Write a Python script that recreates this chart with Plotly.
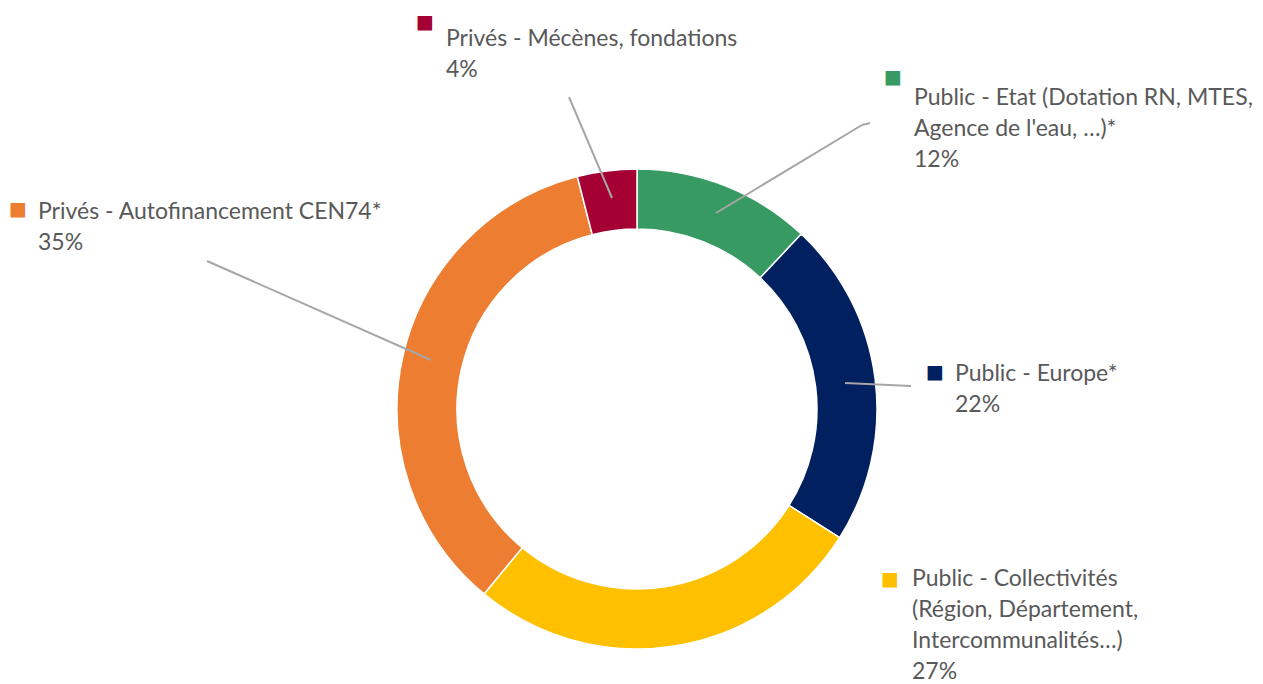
import plotly.graph_objects as go

# Répartition des financements (%)
labels = ["Public - Etat (Dotation RN, MTES,\nAgence de l'eau, …)*",
          "Public - Europe*",
          "Public - Collectivités\n(Région, Département,\nIntercommunalités…)",
          "Privés - Autofinancement CEN74*",
          "Privés - Mécènes, fondations"]
values = [12, 22, 27, 35, 4]
colors = ["#379A63", "#002060", "#FFC000", "#ED7D31", "#A50033"]

W, H = 1263, 684

# label placement in pixels: (text left x, first line centre y, square x, square y)
label_pos = [(912, 96, 893, 76),
             (953, 372, 935, 371),
             (910, 577, 890, 578),
             (36, 210, 18, 208),
             (444, 37, 425, 21)]
# leader lines in pixels (label side -> slice side), None for no line
leaders = [[(870, 123), (862, 125), (716, 213)],
           [(911, 386), (845, 383)],
           None,
           [(207, 261), (431, 360)],
           [(569, 97), (612, 198)]]

def px(x, y):
  return x / W, 1 - y / H

fig = go.Figure()

# donut centred at (637, 409) px with outer radius 240 px
cx, cy, r = 637, 409, 240
fig.add_trace(go.Pie(labels=labels, values=values, hole=0.75, sort=False,
                     direction="clockwise", textinfo="none", showlegend=False,
                     hoverinfo="label+percent",
                     marker=dict(colors=colors, line=dict(color="white", width=1.5)),
                     domain=dict(x=[(cx - r) / W, (cx + r) / W],
                                 y=[1 - (cy + r) / H, 1 - (cy - r) / H])))

line_h = 31
annotations = []
shapes = []
for lab, val, col, pos, lead in zip(labels, values, colors, label_pos, leaders):
  tx, ty, sx, sy = pos
  lines = lab.split("\n") + [str(val) + "%"]
  for i, t in enumerate(lines):
    x, y = px(tx, ty + i * line_h)
    annotations.append(dict(x=x, y=y, xref="paper", yref="paper", text=t,
                            showarrow=False, xanchor="left", yanchor="middle",
                            font=dict(family="Lato", size=23, color="#595959")))
  x, y = px(sx, sy)
  annotations.append(dict(x=x, y=y, xref="paper", yref="paper", text="■",
                          showarrow=False, xanchor="center", yanchor="middle",
                          font=dict(family="DejaVu Sans", size=19, color=col)))
  if lead:
    for (x0, y0), (x1, y1) in zip(lead[:-1], lead[1:]):
      a0, b0 = px(x0, y0)
      a1, b1 = px(x1, y1)
      shapes.append(dict(type="line", xref="paper", yref="paper",
                         x0=a0, y0=b0, x1=a1, y1=b1,
                         line=dict(color="#A6A6A6", width=2)))

fig.update_layout(width=W, height=H, margin=dict(l=0, r=0, t=0, b=0),
                  paper_bgcolor="white", plot_bgcolor="white",
                  annotations=annotations, shapes=shapes)

fig.write_html("out.html", config={"displayModeBar": False},
               post_script="document.body.style.margin='0px';")
